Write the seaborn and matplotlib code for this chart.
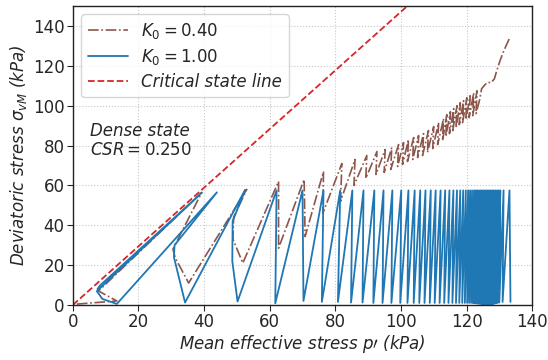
import matplotlib
matplotlib.use("Agg")
import matplotlib.pyplot as plt
import seaborn as sns
import pandas as pd

# ---- data (p' in kPa, q = sigma_vM in kPa) ----
# K0 = 1.00 : cycles in time order, each cycle = trough -> peak
blue_trough_p = [133.4, 131.0, 130.0, 129.5, 129.0, 128.5, 128.0, 127.5, 127.0, 126.5,
                 126.0, 125.5, 125.0, 124.5, 124.0, 123.5, 123.0, 122.5, 122.0, 121.4,
                 120.8, 120.2, 119.5, 118.7, 117.8, 116.8, 115.7, 114.5, 113.2, 111.8,
                 110.3, 108.8, 107.2, 105.6, 103.9, 102.0, 99.8, 97.1, 94.4, 91.6,
                 88.3, 84.8, 80.8, 75.9, 70.3, 61.7]
blue_trough_q = [1.5, 1.5, 1.2, 1.0, 0.8, 0.6, 0.4, 0.3, 0.2, 0.2,
                 0.2, 0.3, 0.3, 0.4, 0.5, 0.6, 0.7, 0.8, 0.9, 1.0,
                 1.0, 1.0, 1.0, 1.0, 1.0, 1.0, 1.0, 1.0, 1.0, 1.0,
                 1.0, 1.0, 1.0, 1.0, 1.0, 1.0, 1.0, 1.0, 1.0, 1.0,
                 1.2, 1.2, 1.5, 1.5, 2.0, 0.8]
blue_peak_p = [133.1, 131.3, 130.3, 129.8, 129.3, 128.8, 128.3, 127.8, 127.3, 126.8,
               126.3, 125.8, 125.3, 124.8, 124.3, 123.8, 123.3, 122.8, 122.3, 121.7,
               121.1, 120.5, 119.8, 119.0, 118.1, 117.1, 116.0, 114.8, 113.5, 112.1,
               110.6, 109.1, 107.5, 105.9, 104.2, 102.3, 100.1, 97.4, 94.7, 91.9,
               88.6, 85.2, 81.5, 76.4, 70.0, 62.1]
blue_peak_q = 57.5
# last cycles near liquefaction (butterfly loops)
blue_tail_p = [50.2, 48.6, 48.7, 52.5, 34.2, 30.8, 31.0, 43.9, 13.4, 9.0, 7.3, 39.3, 8.3, 7.5]
blue_tail_q = [1.7, 22.0, 42.0, 57.8, 1.2, 24.0, 30.0, 56.5, 0.5, 3.0, 6.9, 56.3, 9.8, 8.0]

# K0 = 0.40
brown_head_p = [133.0, 131.3, 130.2, 129.2, 128.5, 127.5, 126.5, 125.6, 124.6, 124.0]
brown_head_q = [133.5, 127.3, 122.5, 117.5, 113.5, 111.5, 111.8, 110.5, 108.5, 103.0]
brown_trough_p = [122.9, 121.9, 120.8, 119.8, 118.8, 117.8, 116.8, 115.8, 114.8, 113.7,
                  112.7, 111.2, 109.7, 108.1, 106.6, 105.1, 103.6, 102.0, 100.5, 99.0,
                  96.9, 94.9, 92.4, 89.3, 85.7, 81.6, 76.2, 70.8, 62.7]
brown_trough_q = [96.0, 95.0, 94.0, 93.0, 91.5, 90.5, 89.0, 87.5, 86.0, 84.5,
                  82.5, 80.5, 78.5, 76.5, 75.0, 74.0, 73.0, 72.0, 70.5, 69.5,
                  68.0, 66.5, 65.5, 63.5, 60.0, 52.0, 46.0, 34.3, 28.5]
brown_peak_p = [123.2, 122.2, 121.1, 120.1, 119.1, 118.1, 117.1, 116.1, 115.1, 114.0,
                113.0, 111.5, 110.0, 108.4, 106.9, 105.4, 103.9, 102.3, 100.8, 99.3,
                97.2, 95.2, 92.7, 89.6, 86.0, 82.0, 76.4, 70.5, 62.7]
brown_peak_q = [107.5, 106.5, 105.0, 104.0, 102.5, 101.5, 100.0, 98.5, 97.0, 95.5,
                93.5, 91.5, 89.5, 87.5, 86.0, 85.0, 84.0, 83.0, 81.5, 80.5,
                79.0, 78.0, 77.0, 75.0, 73.0, 71.0, 67.0, 63.0, 62.0]
brown_tail_p = [51.8, 48.8, 49.0, 53.0, 35.3, 31.2, 30.5, 39.3, 7.8, 13.4, 0.3]
brown_tail_q = [21.0, 33.0, 44.0, 58.0, 11.0, 23.6, 28.0, 56.5, 7.0, 2.0, 0.3]

# critical state line end points
csl_p = [0, 140]
csl_q = [0, 206]

# ---- assemble the paths ----
bp, bq = [], []
for tp, tq, pp in zip(blue_trough_p, blue_trough_q, blue_peak_p):
    bp += [tp, pp]
    bq += [tq, blue_peak_q]
bp += blue_tail_p
bq += blue_tail_q
blue = pd.DataFrame({"p": bp, "q": bq})

rp, rq = list(brown_head_p), list(brown_head_q)
for tp, tq, pp, pq in zip(brown_trough_p, brown_trough_q, brown_peak_p, brown_peak_q):
    rp += [tp, pp]
    rq += [tq, pq]
rp += brown_tail_p
rq += brown_tail_q
brown = pd.DataFrame({"p": rp, "q": rq})

csl = pd.DataFrame({"p": csl_p, "q": csl_q})

# ---- plot ----
sns.set_style("ticks")
plt.rcParams['font.family'] = ['DejaVu Sans']
fs = 12

fig, ax = plt.subplots(figsize=(5.48, 3.6), dpi=100)
fig.subplots_adjust(left=0.133, right=0.971, bottom=0.153, top=0.983)

sns.lineplot(data=brown, x="p", y="q", sort=False, estimator=None, ax=ax,
             color="#8c564b", linestyle="-.", linewidth=1.2, label=r"$K_0 = 0.40$")
sns.lineplot(data=blue, x="p", y="q", sort=False, estimator=None, ax=ax,
             color="#1f77b4", linewidth=1.3, label=r"$K_0 = 1.00$")
sns.lineplot(data=csl, x="p", y="q", sort=False, estimator=None, ax=ax,
             color="#d62728", linestyle="--", linewidth=1.3, label="Critical state line")

ax.set_xlim(0, 140)
ax.set_ylim(0, 150)
ax.set_xticks(range(0, 141, 20))
ax.set_yticks(range(0, 141, 20))
ax.tick_params(labelsize=fs, length=4, pad=2)
ax.grid(True, linestyle=":", color="#c8c8c8", linewidth=0.8)
for s in ax.spines.values():
    s.set_color("#222222")
    s.set_linewidth(1.0)

ax.set_xlabel(r"Mean effective stress $p\prime$ (kPa)", fontsize=fs, style="italic", labelpad=1)
ax.set_ylabel(r"Deviatoric stress $\sigma_{vM}$ (kPa)", fontsize=fs, style="italic", labelpad=3)

ax.text(5.3, 87.5, "Dense state", fontsize=fs, style="italic", va="center")
ax.text(5.3, 77.7, r"$CSR = 0.250$", fontsize=fs, va="center")

leg = ax.legend(loc="upper left", fontsize=fs, handlelength=2.4, borderaxespad=0.5,
                labelspacing=0.35, borderpad=0.4)
for t in leg.get_texts():
    t.set_fontstyle("italic")

fig.savefig("out.png", dpi=100)
